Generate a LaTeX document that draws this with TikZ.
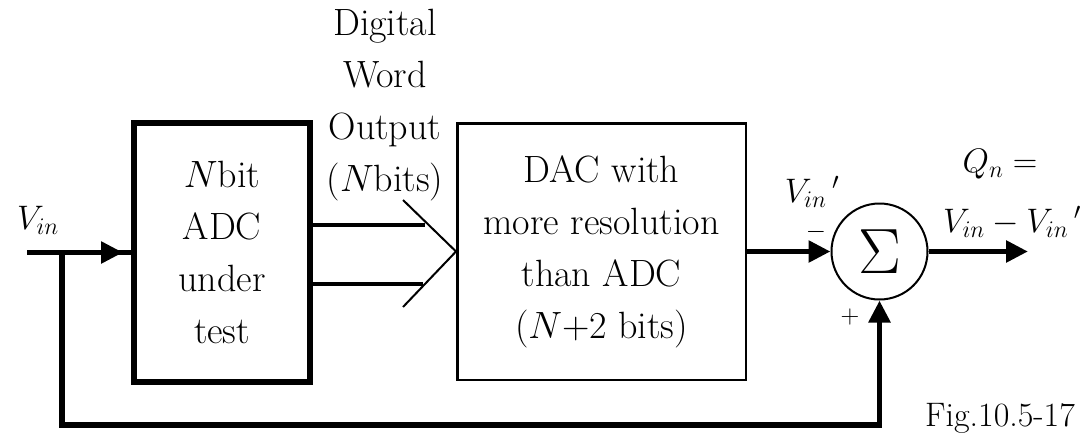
\RequirePackage{fix-cm}
\documentclass[tikz,border=0pt]{standalone}
\usepackage{fontspec}
\usetikzlibrary{arrows.meta}
\tikzset{
  big/.style={font=\fontsize{38}{52}\selectfont, align=center},
  lbl/.style={font=\fontsize{34}{40}\selectfont, inner sep=0pt},
  sig/.style={line width=5.5pt},
  bus/.style={line width=4.5pt},
  thinl/.style={line width=2pt},
  tip/.style={-{Triangle[length=22pt,width=21pt]}},
  adcbox/.style={draw, line width=6pt, big, minimum width=176pt, minimum height=259pt, inner sep=0pt},
  dacbox/.style={draw, line width=2.5pt, big, minimum width=288.5pt, minimum height=256.5pt, inner sep=0pt},
  sumnode/.style={draw, circle, line width=2pt, minimum size=96pt, inner sep=0pt, font=\fontsize{64}{64}\selectfont},
  sign/.style={inner sep=0pt, font=\fontsize{26}{26}\selectfont}
}
\begin{document}
\begin{tikzpicture}[x=1pt,y=-1pt]
\useasboundingbox (0,0) rectangle (1084,434);
\fill[white] (0,0) rectangle (1084,434);

\node[adcbox] (adc) at (222,252.5) {$N$bit\\ADC\\under\\test};
\node[dacbox] (dac) at (601.5,251.5) {DAC with\\more resolution\\than ADC\\($N$+2 bits)};
\node[sumnode] (sum) at (879.5,251.5) {$\Sigma$};

\node[big, inner sep=0pt] (dwo) at (385,105) {Digital\\Word\\Output\\($N$bits)};

% input and feedback
\coordinate (vin) at (27,252.5);
\coordinate (br) at (62,252.5);
\coordinate (fbl) at (62,425);
\draw[sig] (vin) -- (adc.west);
\draw[sig,tip] (vin) -- ([xshift=-8pt]adc.west);
\draw[sig,tip] (br) -- (fbl) -| (sum.south);

% ADC outputs and bus chevron
\coordinate (o1) at (425,225);
\coordinate (o2) at (423,284);
\draw[bus] (adc.east |- o1) -- (o1);
\draw[bus] (adc.east |- o2) -- (o2);
\coordinate (c1) at (403,200);
\coordinate (c2) at (403,307);
\draw[thinl] (c1) -- (dac.west) -- (c2);

% DAC to summer, output
\draw[sig,tip] (dac.east) -- (sum.west);
\coordinate (out) at (1028,251.5);
\draw[sig,tip] (sum.east) -- (out);

% labels
\node[lbl] (lvin) at (38,220) {$V_{in}$};
\node[lbl] (lvinp) at (812,192) {$V_{in}\,{}'$};
\node[sign] (lminus) at (816,232) {$-$};
\node[sign] (lplus) at (850,317) {$+$};
\node[lbl] (lqn) at (1000,164) {$Q_n =$};
\node[lbl] (ldiff) at (1012,222) {$V_{in} - V_{in}\,{}'$};
\node[lbl] (lfig) at (1000,418) {Fig.10.5-17};
\end{tikzpicture}
\end{document}
